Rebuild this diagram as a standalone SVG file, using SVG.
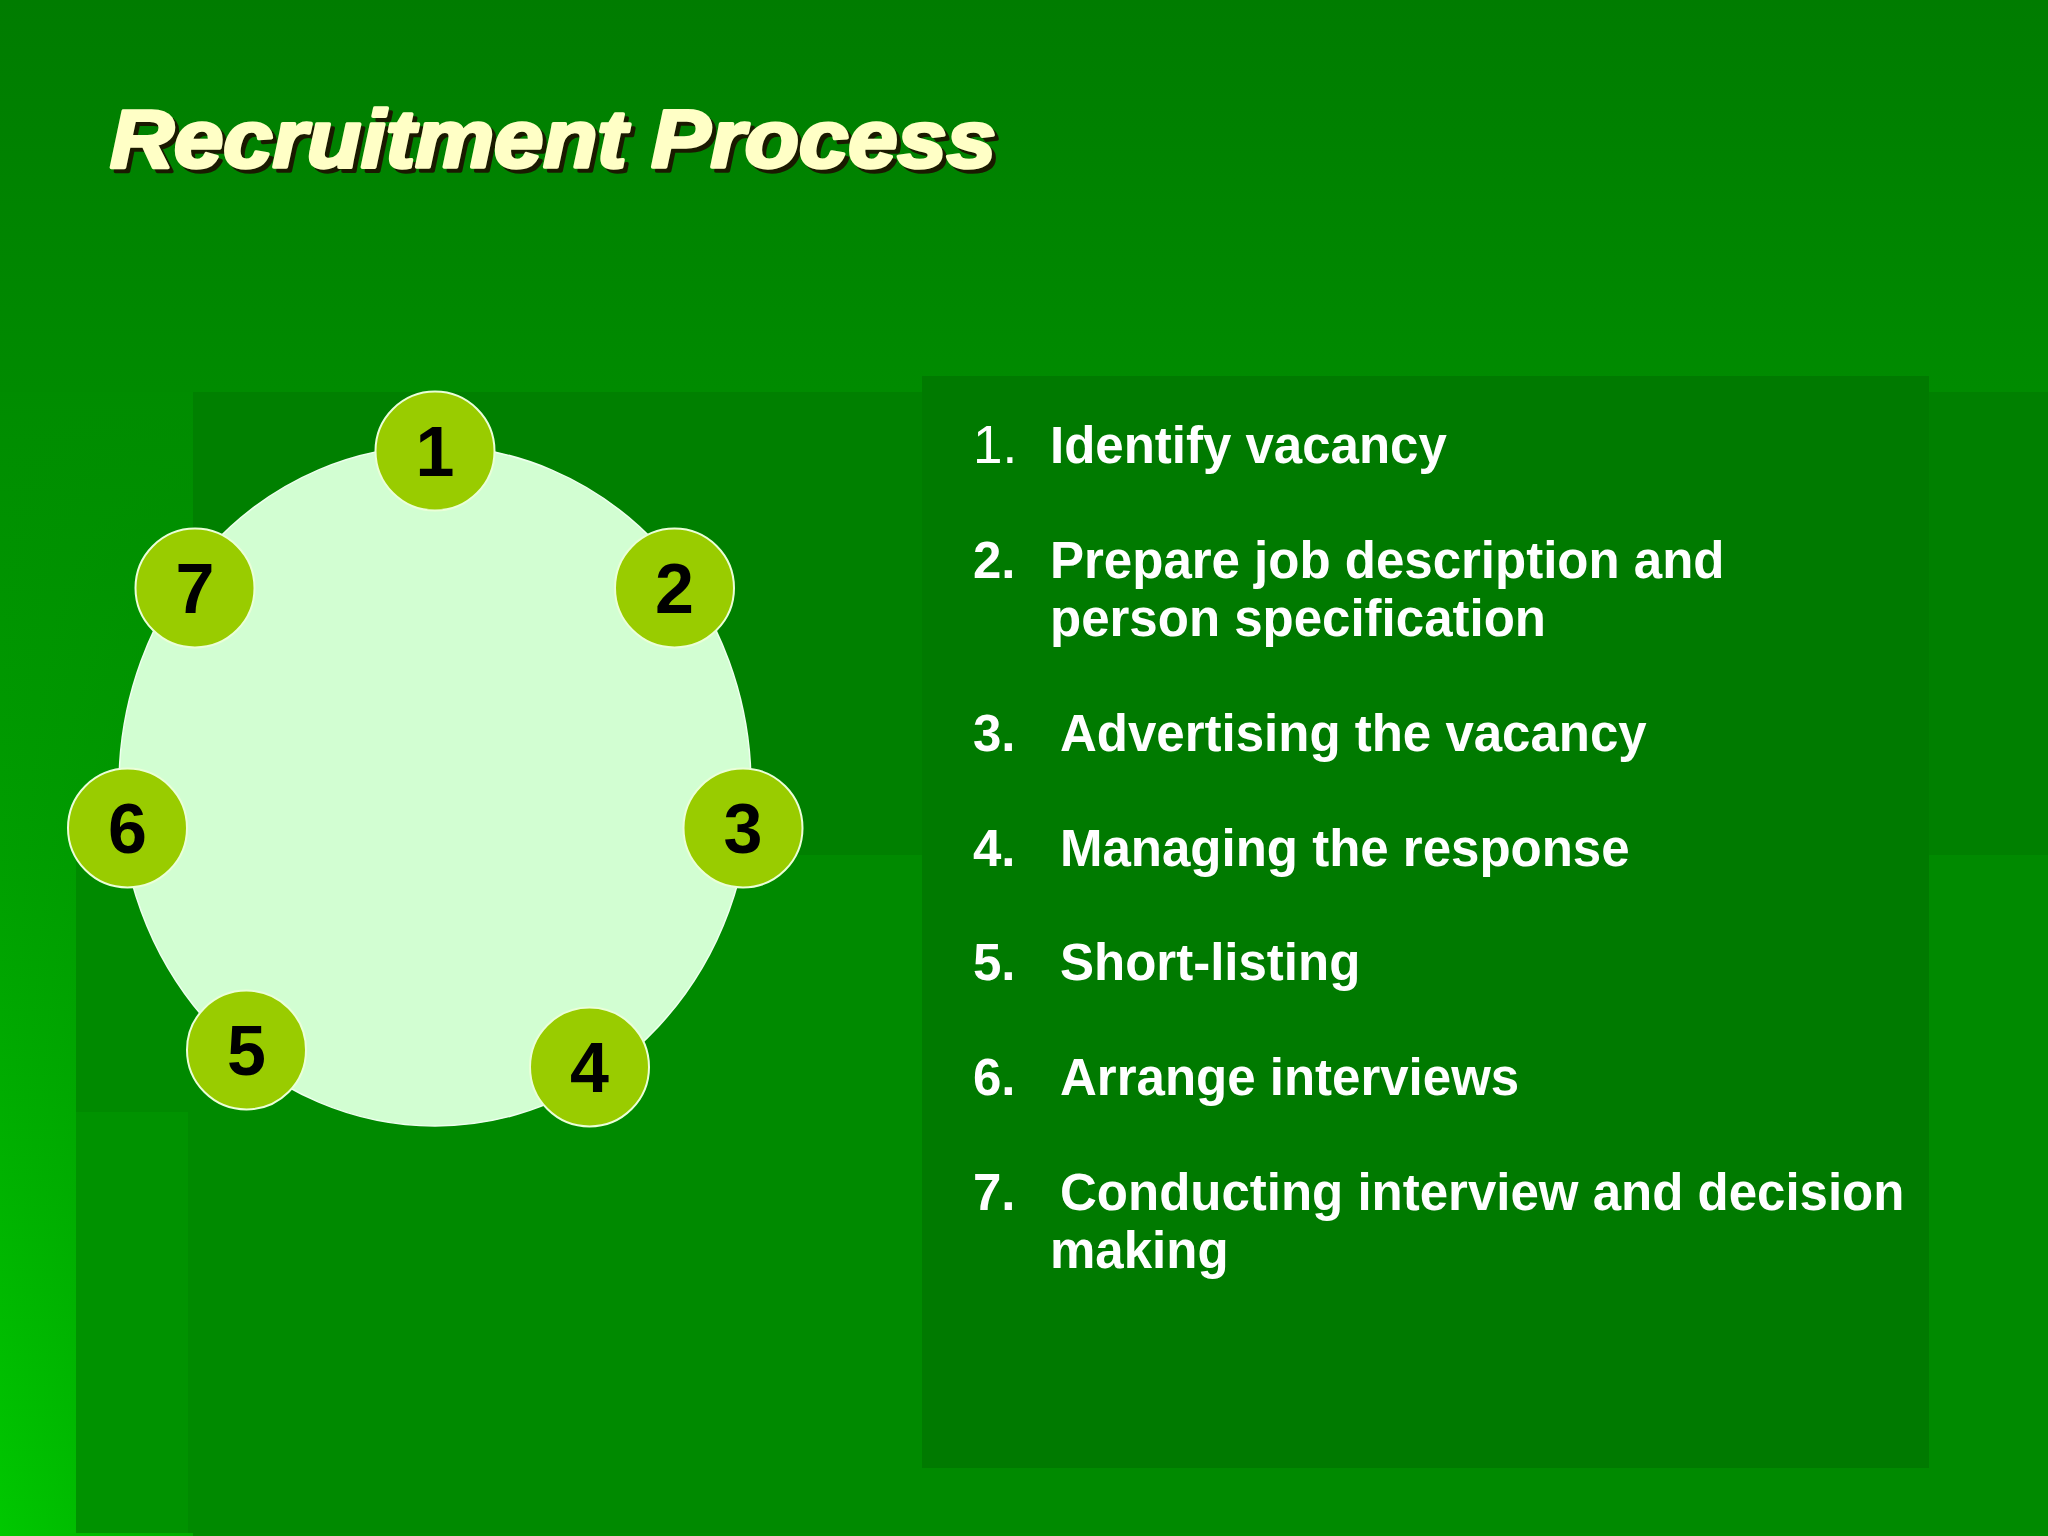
<svg xmlns="http://www.w3.org/2000/svg" width="2048" height="1536" viewBox="0 0 2048 1536">
  <defs>
    <linearGradient id="bgTop" x1="0" y1="0" x2="0" y2="1536" gradientUnits="userSpaceOnUse">
      <stop offset="0" stop-color="#007c00"/>
      <stop offset="0.27" stop-color="#008c00"/>
      <stop offset="1" stop-color="#008c00"/>
    </linearGradient>
    <linearGradient id="leftBand" x1="0" y1="392" x2="0" y2="1536" gradientUnits="userSpaceOnUse">
      <stop offset="0" stop-color="#008c00"/>
      <stop offset="0.4" stop-color="#009e00"/>
      <stop offset="1" stop-color="#00c800"/>
    </linearGradient>
    <linearGradient id="leftBand2" x1="0" y1="0" x2="193" y2="0" gradientUnits="userSpaceOnUse">
      <stop offset="0" stop-color="#008c00" stop-opacity="0"/>
      <stop offset="1" stop-color="#008c00" stop-opacity="0.45"/>
    </linearGradient>
  </defs>
  <style>
    .bubble { fill: #99cc00; stroke: #eaffd8; stroke-width: 2; }
    .num { font-family: "Liberation Sans", Arial, sans-serif; font-weight: bold; font-size: 70px; fill: #000000; text-anchor: middle; }
    .item { font-family: "Liberation Sans", Arial, sans-serif; font-weight: bold; font-size: 51px; fill: #ffffff; }
    .itemReg { font-weight: normal; font-size: 53px; }
    .title { font-family: "Liberation Sans", Arial, sans-serif; font-weight: bold; font-style: italic; font-size: 81px; stroke-width: 3.5; stroke-linejoin: round; }
  </style>

  <!-- background -->
  <rect x="0" y="0" width="2048" height="1536" fill="url(#bgTop)"/>
  <rect x="0" y="392" width="193" height="1144" fill="url(#leftBand)"/>
  <rect x="0" y="392" width="193" height="1144" fill="url(#leftBand2)"/>
  <rect x="193" y="392" width="1855" height="463" fill="#008000"/>
  <rect x="76" y="855" width="1972" height="678" fill="#008a00"/>
  <rect x="76" y="1112" width="112" height="421" fill="#009200"/>
  <rect x="922" y="376" width="1007" height="1092" fill="#007a00"/>

  <!-- title -->
  <g id="title">
    <text class="title" x="114" y="171" textLength="886" lengthAdjust="spacingAndGlyphs" fill="#1a1a00" stroke="#1a1a00">Recruitment Process</text>
    <text class="title" x="110" y="167" textLength="886" lengthAdjust="spacingAndGlyphs" fill="#ffffc6" stroke="#ffffc6">Recruitment Process</text>
  </g>

  <!-- cycle -->
  <g id="cycle-ring">
    <ellipse cx="435" cy="786" rx="316" ry="340" fill="#d2fed2" stroke="#eeffee" stroke-width="1.5"/>
  </g>

  <g id="connectors"></g>

  <g id="step-1"><circle class="bubble" cx="435" cy="451" r="59.5"/><text class="num" x="435" y="476">1</text></g>
  <g id="step-2"><circle class="bubble" cx="674.5" cy="588" r="59.5"/><text class="num" x="674.5" y="613">2</text></g>
  <g id="step-3"><circle class="bubble" cx="743" cy="828" r="59.5"/><text class="num" x="743" y="853">3</text></g>
  <g id="step-4"><circle class="bubble" cx="589.5" cy="1067" r="59.5"/><text class="num" x="589.5" y="1092">4</text></g>
  <g id="step-5"><circle class="bubble" cx="246.5" cy="1050" r="59.5"/><text class="num" x="246.5" y="1075">5</text></g>
  <g id="step-6"><circle class="bubble" cx="127.5" cy="828" r="59.5"/><text class="num" x="127.5" y="853">6</text></g>
  <g id="step-7"><circle class="bubble" cx="195" cy="588" r="59.5"/><text class="num" x="195" y="613">7</text></g>

  <!-- list -->
  <g id="list">
    <g id="item-1">
      <text class="item itemReg" x="973" y="463">1.</text>
      <text class="item" x="1050" y="463">Identify vacancy</text>
    </g>
    <g id="item-2">
      <text class="item" x="973" y="578">2.</text>
      <text class="item" x="1050" y="578">Prepare job description and</text>
      <text class="item" x="1050" y="636">person specification</text>
    </g>
    <g id="item-3">
      <text class="item" x="973" y="751">3.</text>
      <text class="item" x="1060" y="751">Advertising the vacancy</text>
    </g>
    <g id="item-4">
      <text class="item" x="973" y="866">4.</text>
      <text class="item" x="1060" y="866">Managing the response</text>
    </g>
    <g id="item-5">
      <text class="item" x="973" y="980">5.</text>
      <text class="item" x="1060" y="980">Short-listing</text>
    </g>
    <g id="item-6">
      <text class="item" x="973" y="1095">6.</text>
      <text class="item" x="1060" y="1095">Arrange interviews</text>
    </g>
    <g id="item-7">
      <text class="item" x="973" y="1210">7.</text>
      <text class="item" x="1060" y="1210">Conducting interview and decision</text>
      <text class="item" x="1050" y="1268">making</text>
    </g>
  </g>
</svg>
